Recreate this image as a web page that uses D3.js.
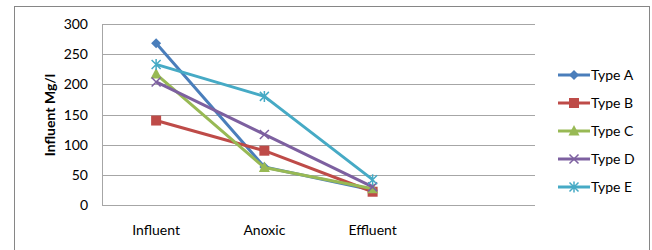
<!DOCTYPE html>
<html>
<head>
<meta charset="utf-8">
<script src="https://cdn.jsdelivr.net/npm/d3@7"></script>
<style>
  body { margin: 0; background: #fff; }
  svg text { font-family: Lato, "Open Sans", sans-serif; fill: #000; }
</style>
</head>
<body>
<div id="chart"></div>
<script>
var categories = ['Influent', 'Anoxic', 'Effluent', ''];
var seriesNames = ['Type A', 'Type B', 'Type C', 'Type D', 'Type E'];
var typeA = [268, 63, 25];
var typeB = [140, 90, 22];
var typeC = [217, 62, 27];
var typeD = [204, 117, 30];
var typeE = [233, 180, 42];
var yTicks = [0, 50, 100, 150, 200, 250, 300];

var width = 652, height = 250;
var colors = ['#4a7ebb', '#be4b48', '#98b954', '#7d60a0', '#46aac5'];
var symbols = ['diamond', 'square', 'triangle', 'x', 'star'];
var allSeries = [typeA, typeB, typeC, typeD, typeE];

var svg = d3.select('#chart').append('svg')
  .attr('width', width)
  .attr('height', height);

svg.append('rect')
  .attr('x', 14.5).attr('y', 6.5)
  .attr('width', 635).attr('height', 260)
  .attr('fill', '#fff')
  .attr('stroke', '#868686');

var plot = { left: 102, right: 535, top: 24, bottom: 205 };

var x = d3.scaleBand()
  .domain(categories)
  .range([plot.left, plot.right]);

var y = d3.scaleLinear()
  .domain([0, 300])
  .range([plot.bottom, plot.top]);

// gridlines
svg.append('g').selectAll('line')
  .data(yTicks)
  .enter().append('line')
  .attr('x1', plot.left)
  .attr('x2', plot.right)
  .attr('y1', function(d) { return Math.round(y(d)) + 0.5; })
  .attr('y2', function(d) { return Math.round(y(d)) + 0.5; })
  .attr('stroke', '#a6a6a6')
  .attr('stroke-width', 1);

svg.append('line')
  .attr('x1', plot.left + 0.5).attr('x2', plot.left + 0.5)
  .attr('y1', plot.top).attr('y2', plot.bottom)
  .attr('stroke', '#a6a6a6');

// y tick labels
svg.append('g').selectAll('text')
  .data(yTicks)
  .enter().append('text')
  .attr('x', 88)
  .attr('y', function(d) { return y(d) + 5; })
  .attr('text-anchor', 'end')
  .attr('font-size', 14)
  .text(function(d) { return d; });

// x labels
svg.append('g').selectAll('text')
  .data(categories)
  .enter().append('text')
  .attr('x', function(d) { return x(d) + x.bandwidth() / 2; })
  .attr('y', 235)
  .attr('text-anchor', 'middle')
  .attr('font-size', 14)
  .text(function(d) { return d; });

// y title
svg.append('text')
  .attr('transform', 'translate(55,115) rotate(-90)')
  .attr('text-anchor', 'middle')
  .attr('font-size', 14)
  .attr('font-weight', 'bold')
  .text('Influent  Mg/l');

var line = d3.line()
  .x(function(d, i) { return x(categories[i]) + x.bandwidth() / 2; })
  .y(function(d) { return y(d); });

function drawMarker(g, type, color) {
  if (type === 'diamond') {
    g.append('path').attr('d', 'M0,-5L5,0L0,5L-5,0Z').attr('fill', color);
  } else if (type === 'square') {
    g.append('rect').attr('x', -5).attr('y', -5).attr('width', 10).attr('height', 10).attr('fill', color);
  } else if (type === 'triangle') {
    g.append('path').attr('d', 'M0,-6L5.5,4.5L-5.5,4.5Z').attr('fill', color);
  } else if (type === 'x') {
    g.append('path').attr('d', 'M-4.5,-4.5L4.5,4.5M-4.5,4.5L4.5,-4.5')
      .attr('stroke', color).attr('stroke-width', 1.5).attr('fill', 'none');
  } else {
    g.append('path').attr('d', 'M-4.5,-4.5L4.5,4.5M-4.5,4.5L4.5,-4.5M0,-5.5L0,5.5')
      .attr('stroke', color).attr('stroke-width', 1.5).attr('fill', 'none');
  }
}

allSeries.forEach(function(vals, si) {
  var g = svg.append('g');
  g.append('path')
    .attr('d', line(vals))
    .attr('fill', 'none')
    .attr('stroke', colors[si])
    .attr('stroke-width', 3)
    .attr('stroke-linejoin', 'round');
  vals.forEach(function(v, i) {
    var m = g.append('g')
      .attr('transform', 'translate(' + (x(categories[i]) + x.bandwidth() / 2) + ',' + y(v) + ')');
    drawMarker(m, symbols[si], colors[si]);
  });
});

// legend
var legend = svg.append('g');
seriesNames.forEach(function(name, i) {
  var ly = 75 + i * 28;
  legend.append('line')
    .attr('x1', 558).attr('x2', 590)
    .attr('y1', ly).attr('y2', ly)
    .attr('stroke', colors[i]).attr('stroke-width', 3);
  var m = legend.append('g').attr('transform', 'translate(574,' + ly + ')');
  drawMarker(m, symbols[i], colors[i]);
  legend.append('text')
    .attr('x', 591)
    .attr('y', ly + 5)
    .attr('font-size', 14)
    .text(name);
});
</script>
</body>
</html>
